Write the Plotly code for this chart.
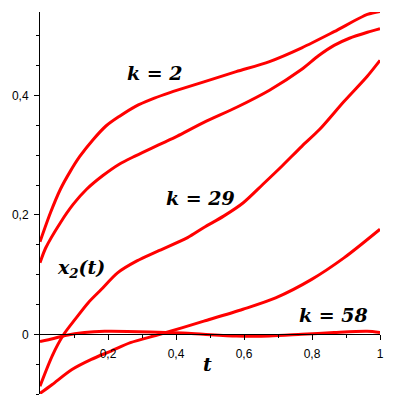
import plotly.graph_objects as go

# curve samples (t, x2)
t1 = [0, 0.031, 0.06, 0.089, 0.117, 0.156, 0.194, 0.233, 0.281, 0.329, 0.367, 0.404, 0.482, 0.577, 0.675, 0.77, 0.865, 0.963, 1.0]
y1 = [0.155, 0.204, 0.243, 0.273, 0.298, 0.326, 0.349, 0.365, 0.382, 0.394, 0.402, 0.409, 0.423, 0.44, 0.457, 0.48, 0.507, 0.536, 0.541]

t2 = [0, 0.017, 0.06, 0.098, 0.137, 0.185, 0.233, 0.281, 0.329, 0.367, 0.404, 0.482, 0.577, 0.675, 0.77, 0.82, 0.865, 0.91, 0.963, 1.0]
y2 = [0.12, 0.145, 0.187, 0.218, 0.243, 0.266, 0.285, 0.299, 0.312, 0.322, 0.332, 0.355, 0.38, 0.409, 0.444, 0.467, 0.484, 0.496, 0.506, 0.512]

t3 = [0, 0.036, 0.07, 0.103, 0.142, 0.18, 0.228, 0.285, 0.345, 0.434, 0.482, 0.54, 0.597, 0.655, 0.712, 0.77, 0.822, 0.894, 0.962, 1.0]
y3 = [-0.087, -0.036, 0, 0.025, 0.053, 0.075, 0.103, 0.123, 0.139, 0.162, 0.179, 0.198, 0.22, 0.251, 0.282, 0.315, 0.343, 0.39, 0.432, 0.459]

t4 = [0, 0.036, 0.094, 0.151, 0.209, 0.266, 0.353, 0.482, 0.597, 0.693, 0.799, 0.894, 1.0]
y4 = [-0.099, -0.084, -0.059, -0.042, -0.028, -0.014, 0, 0.022, 0.042, 0.061, 0.092, 0.128, 0.176]

t5 = [0, 0.04, 0.074, 0.131, 0.19, 0.324, 0.42, 0.48, 0.578, 0.674, 0.77, 0.865, 0.962, 1.0]
y5 = [-0.012, -0.007, -0.002, 0.003, 0.005, 0.004, 0.002, 0, -0.003, -0.003, 0, 0.003, 0.005, 0.003]

x_ticks = [0.2, 0.4, 0.6, 0.8, 1]
x_minor = [0.1, 0.3, 0.5, 0.7, 0.9]
y_ticks = [0, 0.2, 0.4]
y_minor = [-0.1, -0.05, 0.05, 0.1, 0.15, 0.25, 0.3, 0.35, 0.45, 0.5]

labels = ["<i><b>k = 2</b></i>", "<i><b>k = 29</b></i>", "<i><b>x<sub>2</sub>(t)</b></i>",
          "<i><b>k = 58</b></i>", "<i><b>t</b></i>"]
label_pos = [(0.337, 0.437), (0.471, 0.228), (0.12, 0.111), (0.863, 0.032), (0.493, -0.05)]

y_lo, y_hi = -0.1, 0.54

fig = go.Figure()
for tt, yy in [(t1, y1), (t2, y2), (t3, y3), (t4, y4), (t5, y5)]:
    fig.add_trace(go.Scatter(x=tt, y=yy, mode="lines",
                             line=dict(color="#ff0000", width=3, shape="spline", smoothing=0.8),
                             showlegend=False, hoverinfo="skip"))

for txt, (ax, ay) in zip(labels, label_pos):
    fig.add_annotation(x=ax, y=ay, text=txt, showarrow=False,
                       font=dict(family="DejaVu Serif", size=19, color="black"))

# page body has an 8px margin, so the plot margins are pulled in by that much
fig.update_layout(
    width=404, height=415,
    margin=dict(l=25, r=32, t=4, b=29),
    paper_bgcolor="white", plot_bgcolor="white",
    separators=",.",
    font=dict(family="Liberation Sans", size=12, color="black"),
    xaxis=dict(range=[0, 1], anchor="free", position=(0 - y_lo) / (y_hi - y_lo),
               showline=True, linecolor="black", linewidth=1,
               showgrid=False, zeroline=False,
               tickmode="array", tickvals=x_ticks, ticks="outside", ticklen=5,
               tickcolor="black", ticklabelstandoff=3,
               minor=dict(tickvals=x_minor, ticks="outside", ticklen=3, tickcolor="black")),
    yaxis=dict(range=[y_lo, y_hi],
               showline=True, linecolor="black", linewidth=1,
               showgrid=False, zeroline=False,
               tickmode="array", tickvals=y_ticks, ticks="outside", ticklen=5,
               tickcolor="black", ticklabelstandoff=3,
               minor=dict(tickvals=y_minor, ticks="outside", ticklen=3, tickcolor="black")),
)

fig.write_html("out.html")
